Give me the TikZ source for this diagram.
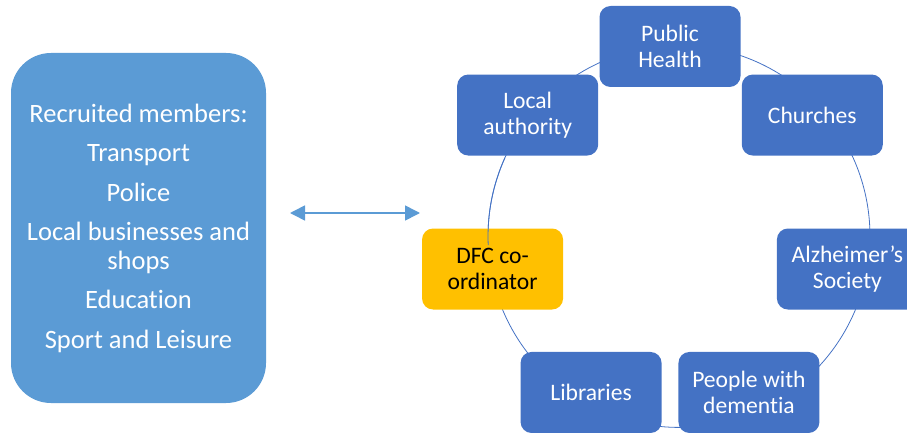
\documentclass[tikz,border=0pt]{standalone}
\usepackage{fontspec}
\setmainfont{Carlito}[Ligatures=NoCommon]
\usetikzlibrary{arrows.meta,calc}
\definecolor{accentlight}{HTML}{5B9BD5}
\definecolor{accentdark}{HTML}{4472C4}
\definecolor{accentgold}{HTML}{FFC000}
\tikzset{
  member/.style={rectangle, rounded corners=11pt, fill=accentdark,
    minimum width=141pt, minimum height=81pt, inner sep=1pt,
    text=white, align=center, font=\fontsize{23.6}{26}\selectfont},
  hubbox/.style={member, fill=accentgold, text=black},
  ring/.style={draw=accentdark, line width=0.8pt},
  link/.style={draw=accentlight, line width=1.6pt,
    {Triangle[length=15pt,width=15pt]}-{Triangle[length=15pt,width=15pt]}}
}
\begin{document}
\begin{tikzpicture}[x=1pt,y=1pt]
\useasboundingbox (0,0) rectangle (907,432);

% recruited members panel
\node (panel) [rectangle, rounded corners=40pt, fill=accentlight,
  minimum width=255pt, minimum height=350pt, inner sep=1pt, text=white, align=center,
  font=\fontsize{26.5}{29}\selectfont] at (138.5,204)
  {Recruited members:\\[10.5pt] Transport\\[10.5pt] Police\\[10.5pt]
   Local businesses and\\ shops\\[10pt] Education\\[10.5pt] Sport and Leisure};

% two-way link between panel and network
\coordinate (lend) at (290,219);
\coordinate (rend) at (420,219);
\draw[link] (lend) -- (rend);

% ring behind the network
\coordinate (arcc) at (679,195.6);
\draw[ring] (arcc) circle[radius=191pt];

% network members placed on a circle
\coordinate (hub) at (670,203.5);
\node[member] (ph)  at ($(hub)+(90:182pt)$)     {Public\\Health};
\node[member] (la)  at ($(hub)+(141.43:182pt)$) {Local\\authority};
\node[hubbox] (dfc) at ($(hub)+(192.86:182pt)$) {DFC co-\\ordinator};
\node[member] (lib) at ($(hub)+(244.29:182pt)$) {Libraries};
\node[member] (pwd) at ($(hub)+(295.71:182pt)$) {People with\\dementia};
\node[member] (alz) at ($(hub)+(347.14:182pt)$) {Alzheimer’s\\Society};
\node[member] (ch)  at ($(hub)+(38.57:182pt)$)  {Churches};

% ring segment that runs over the coordinator box
\draw[ring] ($(arcc)+(155.7:191pt)$) arc[start angle=155.7, end angle=182.6, radius=191pt];
\end{tikzpicture}
\end{document}
